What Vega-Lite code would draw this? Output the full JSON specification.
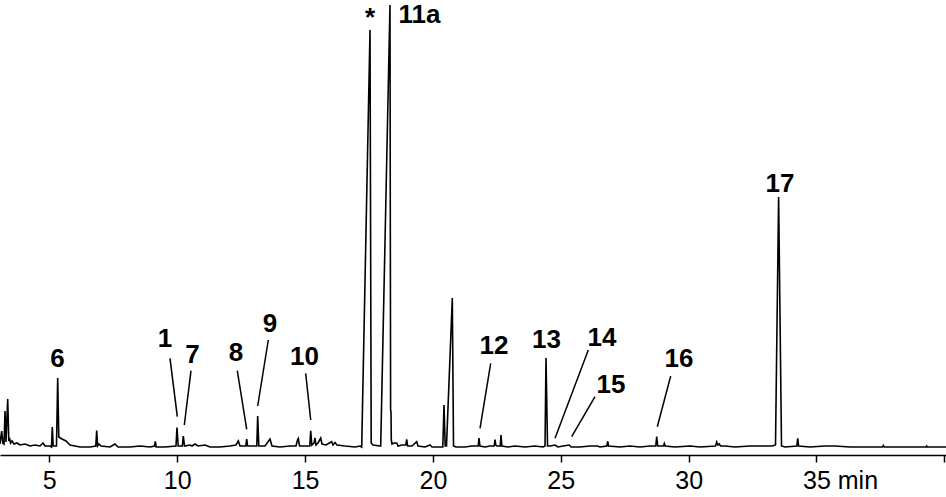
{
  "$schema": "https://vega.github.io/schema/vega-lite/v6.json",
  "width": 946,
  "height": 455,
  "autosize": "none",
  "padding": {"left": 0, "top": 0, "right": 0, "bottom": 42},
  "background": "white",
  "config": {"view": {"stroke": null}},
  "datasets": {
    "trace": [
      {"t":3.072,"v":3},{"t":3.138,"v":16},{"t":3.181,"v":4},{"t":3.228,"v":3},{"t":3.268,"v":36},{"t":3.307,"v":5},{"t":3.373,"v":48},{"t":3.416,"v":6},{"t":3.443,"v":9},{"t":3.483,"v":4},{"t":3.541,"v":6},{"t":3.619,"v":3},{"t":3.737,"v":4},{"t":3.854,"v":2},{"t":4.050,"v":3},{"t":4.245,"v":1},{"t":4.441,"v":2},{"t":4.636,"v":1},{"t":4.753,"v":4},{"t":4.832,"v":1},{"t":5.027,"v":1},{"t":5.086,"v":0},{"t":5.117,"v":20},{"t":5.152,"v":1},{"t":5.281,"v":1},{"t":5.328,"v":69},{"t":5.371,"v":10},{"t":5.496,"v":8},{"t":5.653,"v":6},{"t":5.809,"v":2},{"t":6.005,"v":1},{"t":6.200,"v":0},{"t":6.591,"v":0},{"t":6.818,"v":1},{"t":6.853,"v":16.5},{"t":6.889,"v":1},{"t":6.943,"v":3},{"t":7.022,"v":1},{"t":7.373,"v":0},{"t":7.569,"v":3},{"t":7.686,"v":0},{"t":8.156,"v":0},{"t":8.546,"v":1},{"t":8.938,"v":0},{"t":9.114,"v":1},{"t":9.145,"v":5.5},{"t":9.180,"v":0},{"t":9.524,"v":0},{"t":9.954,"v":1},{"t":9.993,"v":19.5},{"t":10.040,"v":1},{"t":10.201,"v":1},{"t":10.240,"v":11},{"t":10.287,"v":1},{"t":10.502,"v":2},{"t":10.580,"v":1},{"t":10.697,"v":3},{"t":10.815,"v":1},{"t":11.088,"v":2},{"t":11.284,"v":0},{"t":11.675,"v":0},{"t":12.066,"v":1},{"t":12.300,"v":2},{"t":12.391,"v":6},{"t":12.457,"v":1},{"t":12.684,"v":1},{"t":12.719,"v":8},{"t":12.754,"v":1},{"t":13.114,"v":1},{"t":13.149,"v":31},{"t":13.192,"v":1},{"t":13.434,"v":1},{"t":13.630,"v":8},{"t":13.708,"v":1},{"t":14.021,"v":0},{"t":14.412,"v":1},{"t":14.647,"v":1},{"t":14.705,"v":7},{"t":14.737,"v":8.5},{"t":14.784,"v":1},{"t":15.186,"v":1},{"t":15.222,"v":16.3},{"t":15.265,"v":2},{"t":15.351,"v":4},{"t":15.390,"v":9},{"t":15.429,"v":2},{"t":15.507,"v":4},{"t":15.613,"v":9},{"t":15.664,"v":3},{"t":15.820,"v":2},{"t":16.043,"v":5.3},{"t":16.094,"v":2},{"t":16.172,"v":4.5},{"t":16.250,"v":2},{"t":16.563,"v":1},{"t":16.954,"v":0},{"t":17.149,"v":1},{"t":17.216,"v":0},{"t":17.541,"v":417},{"t":17.587,"v":4},{"t":17.658,"v":2},{"t":17.932,"v":1},{"t":17.959,"v":1},{"t":18.322,"v":442},{"t":18.346,"v":37},{"t":18.362,"v":35},{"t":18.373,"v":7},{"t":18.401,"v":3},{"t":18.479,"v":4},{"t":18.585,"v":4},{"t":18.635,"v":1},{"t":18.792,"v":2},{"t":18.940,"v":2},{"t":18.976,"v":7.7},{"t":19.011,"v":1},{"t":19.183,"v":1},{"t":19.367,"v":5.3},{"t":19.418,"v":1},{"t":19.692,"v":0},{"t":19.887,"v":2},{"t":19.965,"v":0},{"t":20.278,"v":0},{"t":20.388,"v":0},{"t":20.434,"v":42},{"t":20.481,"v":1},{"t":20.532,"v":1},{"t":20.759,"v":149},{"t":20.806,"v":1},{"t":20.903,"v":0},{"t":21.255,"v":0},{"t":21.529,"v":1},{"t":21.771,"v":1},{"t":21.803,"v":9},{"t":21.838,"v":1},{"t":22.037,"v":0},{"t":22.233,"v":1},{"t":22.397,"v":1},{"t":22.428,"v":7.5},{"t":22.460,"v":2},{"t":22.507,"v":1},{"t":22.632,"v":1},{"t":22.663,"v":12},{"t":22.698,"v":1},{"t":22.937,"v":0},{"t":23.211,"v":1},{"t":23.602,"v":0},{"t":23.993,"v":1},{"t":24.306,"v":0},{"t":24.384,"v":1},{"t":24.423,"v":89},{"t":24.482,"v":1},{"t":24.579,"v":1},{"t":24.775,"v":2},{"t":24.892,"v":0},{"t":25.088,"v":1},{"t":25.334,"v":2},{"t":25.401,"v":0},{"t":25.752,"v":0},{"t":26.143,"v":1},{"t":26.429,"v":1},{"t":26.534,"v":0},{"t":26.800,"v":1},{"t":26.836,"v":5.5},{"t":26.871,"v":1},{"t":27.316,"v":0},{"t":27.708,"v":1},{"t":28.099,"v":0},{"t":28.490,"v":1},{"t":28.716,"v":1},{"t":28.751,"v":10.5},{"t":28.791,"v":1},{"t":29.017,"v":1},{"t":29.049,"v":3.5},{"t":29.084,"v":1},{"t":29.467,"v":0},{"t":30.054,"v":1},{"t":30.445,"v":0},{"t":31.051,"v":1},{"t":31.098,"v":5},{"t":31.141,"v":2},{"t":31.196,"v":3},{"t":31.247,"v":1},{"t":31.423,"v":1},{"t":31.814,"v":0},{"t":32.400,"v":1},{"t":32.987,"v":1},{"t":33.260,"v":1},{"t":33.397,"v":2},{"t":33.519,"v":250},{"t":33.632,"v":1},{"t":33.769,"v":0},{"t":34.230,"v":1},{"t":34.266,"v":8.7},{"t":34.301,"v":1},{"t":34.747,"v":0},{"t":35.333,"v":1},{"t":35.724,"v":1},{"t":36.311,"v":0},{"t":36.897,"v":0},{"t":37.582,"v":0},{"t":37.613,"v":1.5},{"t":37.648,"v":0},{"t":38.266,"v":0},{"t":39.283,"v":0},{"t":39.310,"v":1},{"t":39.338,"v":0},{"t":40.064,"v":0}
    ],
    "labels": [
      {"t":17.541,"v":421,"label":"*"},
      {"t":19.476,"v":424,"label":"11a"},
      {"t":33.574,"v":255,"label":"17"},
      {"t":5.320,"v":80,"label":"6"},
      {"t":9.524,"v":100,"label":"1"},
      {"t":10.600,"v":84,"label":"7"},
      {"t":12.300,"v":86,"label":"8"},
      {"t":13.630,"v":115,"label":"9"},
      {"t":14.979,"v":82,"label":"10"},
      {"t":22.389,"v":93,"label":"12"},
      {"t":24.442,"v":99,"label":"13"},
      {"t":26.613,"v":101,"label":"14"},
      {"t":26.964,"v":54,"label":"15"},
      {"t":29.624,"v":80,"label":"16"}
    ],
    "leaders": [
      {"t":9.720,"v":88.7,"t2":10.005,"v2":30.3},
      {"t":10.541,"v":76.3,"t2":10.279,"v2":22},
      {"t":12.351,"v":76.3,"t2":12.719,"v2":17.7},
      {"t":13.564,"v":107,"t2":13.149,"v2":41},
      {"t":15.026,"v":73.7,"t2":15.222,"v2":27},
      {"t":22.260,"v":83.7,"t2":21.842,"v2":18.7},
      {"t":26.077,"v":97,"t2":24.775,"v2":8.7},
      {"t":26.339,"v":50.3,"t2":25.427,"v2":10.3},
      {"t":29.299,"v":71,"t2":28.775,"v2":20.3}
    ]
  },
  "layer": [
    {
      "data": {"name": "trace"},
      "mark": {"type": "line", "color": "#000000", "strokeWidth": 1.6, "clip": true},
      "encoding": {
        "x": {
          "field": "t", "type": "quantitative",
          "scale": {"domain": [3.072, 40.064], "nice": false, "zero": false},
          "axis": {
            "title": null, "grid": false,
            "values": [5, 10, 15, 20, 25, 30, 35, 40],
            "labelExpr": "datum.value == 35 ? '35 min' : (datum.value == 40 ? '' : datum.label)",
            "labelAlign": {"condition": {"test": "datum.value == 35", "value": "left"}, "value": "center"},
            "labelOffset": {"condition": {"test": "datum.value == 35", "value": -14}, "value": 0},
            "labelBaseline": "alphabetic",
            "labelFont": "Liberation Sans", "labelFontSize": 25, "labelColor": "#000000",
            "labelPadding": 26, "tickSize": 7, "tickWidth": 1.5, "tickColor": "#000000",
            "domainColor": "#000000", "domainWidth": 1.5, "labelOverlap": false, "labelFlush": false
          }
        },
        "y": {
          "field": "v", "type": "quantitative",
          "scale": {"domain": [-8, 447], "nice": false, "zero": false},
          "axis": null
        }
      }
    },
    {
      "data": {"name": "leaders"},
      "mark": {"type": "rule", "color": "#000000", "strokeWidth": 1.5},
      "encoding": {
        "x": {"field": "t", "type": "quantitative"},
        "y": {"field": "v", "type": "quantitative"},
        "x2": {"field": "t2"},
        "y2": {"field": "v2"}
      }
    },
    {
      "data": {"name": "labels"},
      "mark": {"type": "text", "font": "Liberation Sans", "fontWeight": "bold", "fontSize": 26, "color": "#000000", "align": "center", "baseline": "alphabetic"},
      "encoding": {
        "x": {"field": "t", "type": "quantitative"},
        "y": {"field": "v", "type": "quantitative"},
        "text": {"field": "label"}
      }
    }
  ]
}
